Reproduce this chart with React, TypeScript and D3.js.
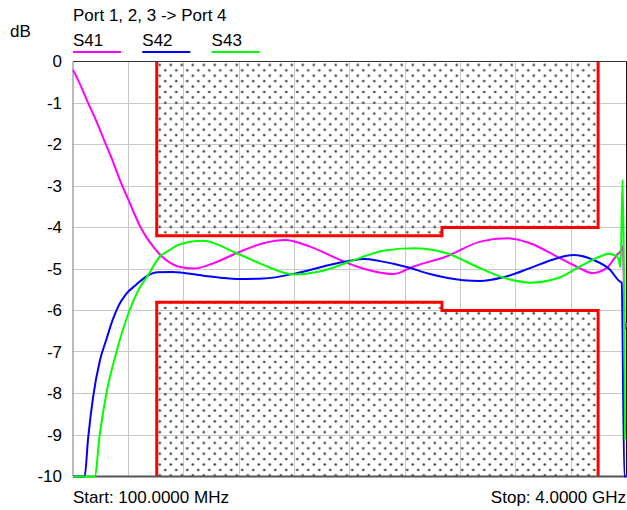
import React from 'react';
import * as d3 from 'd3';

const TITLE = 'Port 1, 2, 3 -> Port 4';
const Y_UNIT = 'dB';
const START_LABEL = 'Start: 100.0000 MHz';
const STOP_LABEL = 'Stop: 4.0000 GHz';
const F_START = 100;
const F_STOP = 4000;
const X_DIVISIONS = 10;
const Y_TICKS = [0, -1, -2, -3, -4, -5, -6, -7, -8, -9, -10];

const SERIES_NAMES = ['S41', 'S42', 'S43'];
const SERIES_COLORS = ['#ff00ff', '#0000ff', '#00ff00'];

// S41 (magenta)
const S41_MHZ = [100, 150, 200, 260, 320, 380, 430, 490, 570, 620, 665, 720, 780, 840, 950, 1090, 1250, 1440, 1590, 1770, 1930, 2100, 2290, 2360, 2500, 2730, 2970, 3160, 3320, 3510, 3670, 3760, 3860, 3930, 3962, 3975, 3988, 4000];
const S41_DB = [-0.2, -0.55, -0.95, -1.4, -1.9, -2.4, -2.85, -3.33, -3.95, -4.25, -4.46, -4.68, -4.84, -4.94, -4.99, -4.86, -4.62, -4.38, -4.3, -4.46, -4.7, -4.94, -5.1, -5.12, -4.94, -4.7, -4.34, -4.26, -4.38, -4.7, -4.98, -5.1, -4.98, -4.67, -4.55, -4.45, -6.45, -6.3];

// S42 (blue)
const S42_MHZ = [100, 170, 182, 206, 241, 290, 335, 377, 419, 475, 545, 608, 693, 800, 1018, 1253, 1441, 1676, 1864, 2052, 2150, 2263, 2451, 2615, 2850, 2968, 3132, 3320, 3484, 3625, 3766, 3884, 3949, 3966, 3985, 4000];
const S42_DB = [-11.5, -10.3, -10, -9.1, -8.1, -7.2, -6.7, -6.25, -5.9, -5.6, -5.38, -5.2, -5.08, -5.07, -5.16, -5.24, -5.23, -5.1, -4.94, -4.8, -4.76, -4.81, -4.95, -5.12, -5.27, -5.29, -5.2, -4.98, -4.77, -4.66, -4.78, -5.02, -5.29, -5.33, -10.5, -10.5];

// S43 (green)
const S43_MHZ = [100, 240, 253, 288, 335, 406, 482, 570, 619, 713, 783, 840, 1018, 1253, 1441, 1652, 1840, 2052, 2286, 2498, 2733, 2968, 3156, 3320, 3508, 3672, 3813, 3870, 3907, 3942, 3958, 3972, 3990];
const S43_DB = [-12, -10.2, -10, -9.0, -8.0, -7.0, -6.15, -5.45, -5.2, -4.7, -4.54, -4.42, -4.32, -4.62, -4.9, -5.13, -5.06, -4.82, -4.56, -4.5, -4.62, -4.98, -5.23, -5.33, -5.23, -4.94, -4.7, -4.63, -4.65, -4.74, -4.95, -2.85, -9.1];

// limit mask
const MASK_MHZ = [690, 2700, 3800];
const MASK_UPPER_DB = [-4.2, -4.0];
const MASK_LOWER_DB = [-5.8, -6.0];

const W = 627;
const H = 510;
const M = { left: 73, right: 0.5, top: 61.5, bottom: 33.5 };
const FONT = '"Liberation Sans", Arial, Helvetica, sans-serif';
const FS = 17;

export default function App() {
  const x = d3.scaleLinear().domain([F_START, F_STOP]).range([M.left, W - M.right]);
  const y = d3.scaleLinear().domain([-10, 0]).range([H - M.bottom, M.top]).clamp(true);

  const xGrid = d3.range(1, X_DIVISIONS).map(i => F_START + (i * (F_STOP - F_START)) / X_DIVISIONS);
  const crisp = (v: number) => Math.floor(v) + 0.5;

  const series = [
    { f: S41_MHZ, v: S41_DB },
    { f: S42_MHZ, v: S42_DB },
    { f: S43_MHZ, v: S43_DB },
  ];
  const line = d3
    .line<[number, number]>()
    .x(d => x(d[0]))
    .y(d => y(Math.max(-10, d[1])))
    .curve(d3.curveMonotoneX);

  const upperFill = `M${x(MASK_MHZ[0])},${y(0)}V${y(MASK_UPPER_DB[0])}H${x(MASK_MHZ[1])}V${y(MASK_UPPER_DB[1])}H${x(MASK_MHZ[2])}V${y(0)}Z`;
  const upperStroke = `M${x(MASK_MHZ[0])},${y(0)}V${y(MASK_UPPER_DB[0])}H${x(MASK_MHZ[1])}V${y(MASK_UPPER_DB[1])}H${x(MASK_MHZ[2])}V${y(0)}`;
  const lowerFill = `M${x(MASK_MHZ[0])},${y(-10)}V${y(MASK_LOWER_DB[0])}H${x(MASK_MHZ[1])}V${y(MASK_LOWER_DB[1])}H${x(MASK_MHZ[2])}V${y(-10)}Z`;
  const lowerStroke = `M${x(MASK_MHZ[0])},${y(-10)}V${y(MASK_LOWER_DB[0])}H${x(MASK_MHZ[1])}V${y(MASK_LOWER_DB[1])}H${x(MASK_MHZ[2])}V${y(-10)}`;

  const x0 = M.left;
  const x1 = W - M.right;
  const y0 = M.top;
  const y1 = H - M.bottom;

  return (
    <svg
      width={W}
      height={H}
      style={{ position: 'absolute', left: 0, top: 0, background: '#fff' }}
      fontFamily={FONT}
    >
      <defs>
        <pattern id="dots" patternUnits="userSpaceOnUse" width={11} height={10.8} x={x(MASK_MHZ[0])} y={y0}>
          <circle cx={3} cy={3.5} r={1.25} fill="#3a3a3a" />
          <circle cx={8.5} cy={8.9} r={1.25} fill="#3a3a3a" />
        </pattern>
      </defs>
      <rect x={0} y={0} width={W} height={H} fill="#fff" />

      {/* grid */}
      {Y_TICKS.map(t => (
        <line key={'gy' + t} x1={x0} x2={x1} y1={crisp(y(t))} y2={crisp(y(t))} stroke="#c8c8c8" strokeWidth={1} />
      ))}
      {xGrid.map(f => (
        <line key={'gx' + f} x1={crisp(x(f))} x2={crisp(x(f))} y1={y0} y2={y1} stroke="#c8c8c8" strokeWidth={1} />
      ))}

      {/* mask */}
      <path d={upperFill} fill="url(#dots)" />
      <path d={lowerFill} fill="url(#dots)" />
      <path d={upperStroke} fill="none" stroke="#ff0000" strokeWidth={3} />
      <path d={lowerStroke} fill="none" stroke="#ff0000" strokeWidth={3} />

      {/* frame */}
      <line x1={x0} x2={x1} y1={y0} y2={y0} stroke="#333" strokeWidth={1} />
      <line x1={x0} x2={x0} y1={y0} y2={y1} stroke="#777" strokeWidth={1} />
      <line x1={x1} x2={x1} y1={y0} y2={y1} stroke="#111" strokeWidth={1} />
      <line x1={x0} x2={x1} y1={y1} y2={y1} stroke="#555" strokeWidth={2} />

      {/* traces */}
      {series.map((s, i) => (
        <path
          key={SERIES_NAMES[i]}
          d={line(s.f.map((f, j) => [f, s.v[j]] as [number, number])) || ''}
          fill="none"
          stroke={SERIES_COLORS[i]}
          strokeWidth={2}
          strokeLinejoin="round"
        />
      ))}

      {/* y tick labels */}
      {Y_TICKS.map(t => (
        <text key={'ty' + t} x={62} y={y(t)} dy="0.35em" textAnchor="end" fontSize={FS} fill="#000">
          {t}
        </text>
      ))}

      {/* title, unit, legend */}
      <text x={73} y={21} fontSize={FS} fill="#000">{TITLE}</text>
      <text x={10} y={37} fontSize={FS} fill="#000">{Y_UNIT}</text>
      {SERIES_NAMES.map((n, i) => (
        <g key={'lg' + n} transform={`translate(${73 + i * 69.3},0)`}>
          <text x={0} y={46} fontSize={FS} fill="#000">{n}</text>
          <line x1={0} x2={48} y1={52} y2={52} stroke={SERIES_COLORS[i]} strokeWidth={2} />
        </g>
      ))}

      {/* start / stop */}
      <text x={73} y={503} fontSize={FS} fill="#000">{START_LABEL}</text>
      <text x={626} y={503} fontSize={FS} textAnchor="end" fill="#000">{STOP_LABEL}</text>
    </svg>
  );
}
